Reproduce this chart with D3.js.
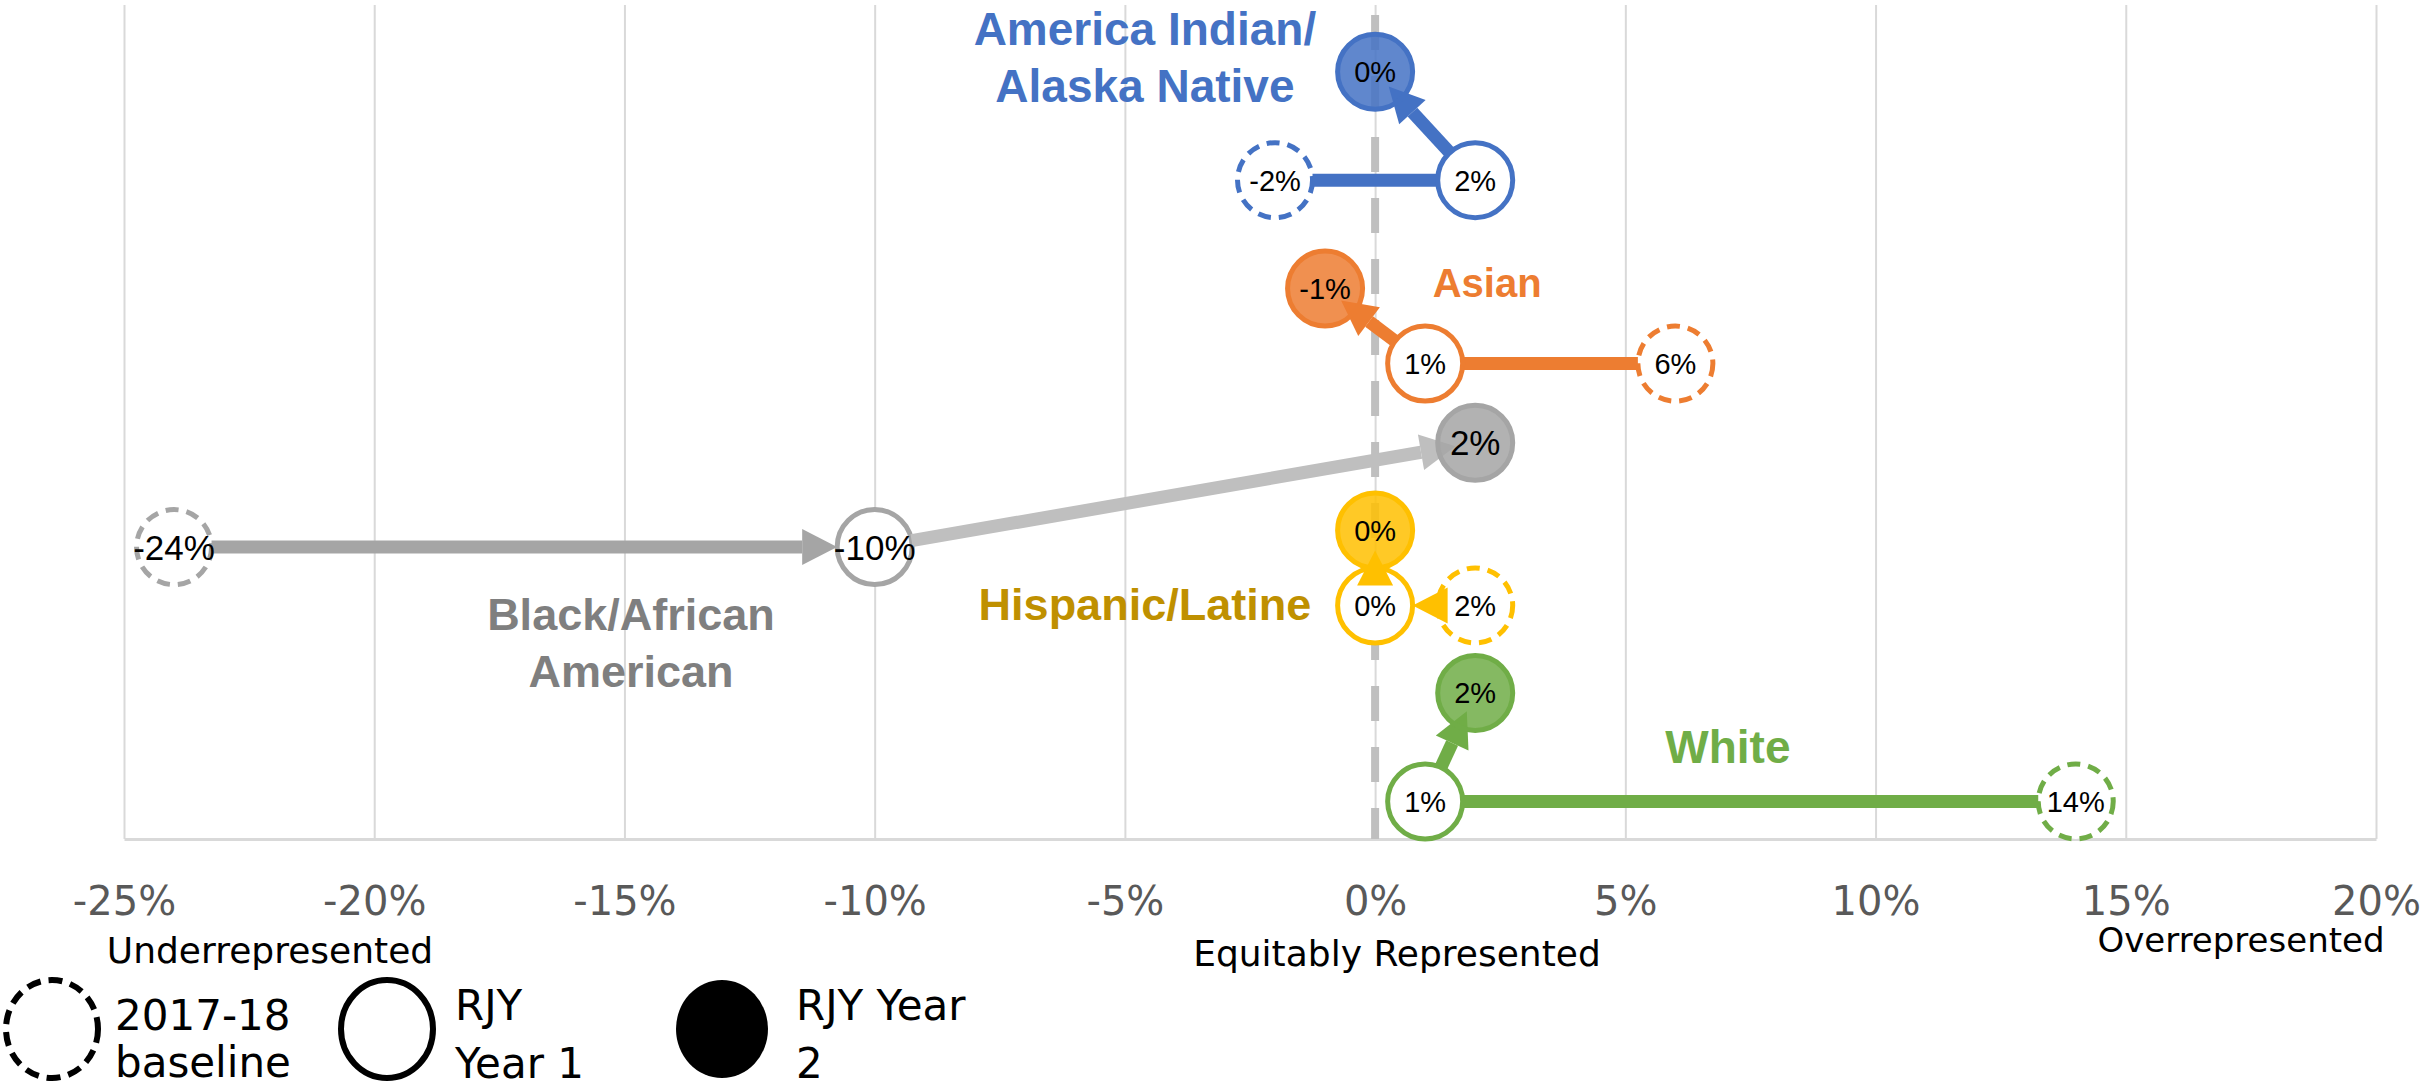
<!DOCTYPE html>
<html>
<head>
<meta charset="utf-8">
<script src="https://cdn.jsdelivr.net/npm/d3@7"></script>
<style>
body { margin: 0; background: #fff; }
svg { display: block; }
</style>
</head>
<body>
<svg id="chart" width="2425" height="1091"></svg>
<script>
// data
var groups = ["America Indian/Alaska Native", "Asian", "Black/African American", "Hispanic/Latine", "White"];
var baseline = [-2, 6, -24, 2, 14];     // 2017-18 baseline
var year1 = [2, 1, -10, 0, 1];          // RJY Year 1
var year2 = [0, -1, 2, 0, 2];           // RJY Year 2
var rowLow = [79, 57, 35, 28, 4.5];     // hidden y value for baseline + year 1
var rowHigh = [92, 66, 47.5, 37, 17.5]; // hidden y value for year 2
var xTicks = [-25, -20, -15, -10, -5, 0, 5, 10, 15, 20];

// styling
var colors = ["#4472C4", "#ED7D31", "#A5A5A5", "#FFC000", "#70AD47"];
var stepColors = ["#4472C4", "#ED7D31", "#BFBFBF", "#FFC000", "#70AD47"];
var labelColors = ["#4472C4", "#ED7D31", "#7F7F7F", "#BF9000", "#70AD47"];
var baseHead = [false, false, true, true, false];
var labelPos = [
    {x: -4.6, y: 95.2, size: 46},
    {x: 2.24, y: 65.0, size: 40},
    {x: -14.87, y: 25.1, size: 45},
    {x: -4.6, y: 26.3, size: 45},
    {x: 7.05, y: 9.1, size: 46}
];

var plot = {left: 124, right: 2376, top: 5, bottom: 839};
var r = 37.5, lw = 13, headLen = 35, headW = 36;

var x = d3.scaleLinear().domain([-25, 20]).range([plot.left, plot.right]);
var y = d3.scaleLinear().domain([0, 100]).range([plot.bottom, plot.top]);

var svg = d3.select("#chart");
svg.append("rect").attr("width", 2425).attr("height", 1091).attr("fill", "#fff");

// gridlines
svg.append("g")
    .attr("transform", "translate(0," + plot.bottom + ")")
    .call(d3.axisBottom(x).tickValues(xTicks).tickSize(-(plot.bottom - plot.top)).tickFormat(""))
    .call(function(g) { g.select(".domain").remove(); })
    .selectAll("line")
    .attr("stroke", "#D9D9D9")
    .attr("stroke-width", 2);

// axis
var ax = svg.append("g")
    .attr("transform", "translate(0," + plot.bottom + ")")
    .call(d3.axisBottom(x).tickValues(xTicks).tickSize(0).tickPadding(48).tickFormat(function(d) { return d + "%"; }));
ax.select(".domain").attr("stroke", "#D9D9D9").attr("stroke-width", 3);
ax.selectAll("text")
    .attr("font-family", "DejaVu Sans")
    .attr("font-size", 40)
    .attr("fill", "#595959");

// dashed zero line
svg.append("line")
    .attr("x1", x(0)).attr("x2", x(0))
    .attr("y1", 15).attr("y2", plot.bottom)
    .attr("stroke", "#BFBFBF")
    .attr("stroke-width", 8)
    .attr("stroke-dasharray", "35,26");

function segment(g, sx, sy, tx, ty, startOff, tipOff, color, head) {
    var dx = tx - sx, dy = ty - sy;
    var len = Math.sqrt(dx * dx + dy * dy);
    var ux = dx / len, uy = dy / len;
    var s = [sx + ux * startOff, sy + uy * startOff];
    var t = [tx - ux * tipOff, ty - uy * tipOff];
    var e = t;
    if (head) {
        e = [t[0] - ux * headLen, t[1] - uy * headLen];
    }
    if ((e[0] - s[0]) * ux + (e[1] - s[1]) * uy > 0) {
        g.append("line")
            .attr("x1", s[0]).attr("y1", s[1])
            .attr("x2", e[0]).attr("y2", e[1])
            .attr("stroke", color)
            .attr("stroke-width", lw);
    }
    if (head) {
        var nx = -uy, ny = ux;
        var pts = [
            t,
            [e[0] + nx * headW / 2, e[1] + ny * headW / 2],
            [e[0] - nx * headW / 2, e[1] - ny * headW / 2]
        ];
        g.append("path")
            .attr("d", "M" + pts.join("L") + "Z")
            .attr("fill", color);
    }
}

var marks = svg.append("g");

// baseline circles
marks.selectAll(".base")
    .data(baseline)
    .enter()
    .append("circle")
    .attr("class", "base")
    .attr("cx", function(d) { return x(d); })
    .attr("cy", function(d, i) { return y(rowLow[i]); })
    .attr("r", r)
    .attr("fill", "#fff")
    .attr("stroke", function(d, i) { return colors[i]; })
    .attr("stroke-width", 5)
    .attr("stroke-dasharray", "13,8");

// baseline -> year 1
for (var i = 0; i < groups.length; i++) {
    segment(marks, x(baseline[i]), y(rowLow[i]), x(year1[i]), y(rowLow[i]), r, r, colors[i], baseHead[i]);
}

// year 1 circles
marks.selectAll(".y1")
    .data(year1)
    .enter()
    .append("circle")
    .attr("class", "y1")
    .attr("cx", function(d) { return x(d); })
    .attr("cy", function(d, i) { return y(rowLow[i]); })
    .attr("r", r)
    .attr("fill", "#fff")
    .attr("stroke", function(d, i) { return colors[i]; })
    .attr("stroke-width", 5);

// year 1 -> year 2
for (var j = 0; j < groups.length; j++) {
    segment(marks, x(year1[j]), y(rowLow[j]), x(year2[j]), y(rowHigh[j]), r, 20, stepColors[j], true);
}

// year 2 circles
marks.selectAll(".y2")
    .data(year2)
    .enter()
    .append("circle")
    .attr("class", "y2")
    .attr("cx", function(d) { return x(d); })
    .attr("cy", function(d, i) { return y(rowHigh[i]); })
    .attr("r", r)
    .attr("fill", function(d, i) { return colors[i]; })
    .attr("fill-opacity", 0.85)
    .attr("stroke", function(d, i) { return colors[i]; })
    .attr("stroke-width", 5);

// value labels
var pts = [];
for (var k = 0; k < groups.length; k++) {
    pts.push({v: baseline[k], row: rowLow[k], g: k});
    pts.push({v: year1[k], row: rowLow[k], g: k});
    pts.push({v: year2[k], row: rowHigh[k], g: k});
}
marks.selectAll(".val")
    .data(pts)
    .enter()
    .append("text")
    .attr("class", "val")
    .attr("x", function(d) { return x(d.v); })
    .attr("y", function(d) { return y(d.row); })
    .attr("dy", "0.36em")
    .attr("text-anchor", "middle")
    .attr("font-family", "Liberation Sans, Arial, sans-serif")
    .attr("font-size", function(d) { return d.g === 2 ? 35 : 29; })
    .attr("fill", "#000")
    .text(function(d) { return d.v + "%"; });

// group labels
var labelLines = [["America Indian/", "Alaska Native"], ["Asian"], ["Black/African", "American"], ["Hispanic/Latine"], ["White"]];
labelLines.forEach(function(lines, i) {
    var t = svg.append("text")
        .attr("x", x(labelPos[i].x))
        .attr("y", y(labelPos[i].y))
        .attr("text-anchor", "middle")
        .attr("font-family", "Liberation Sans, Arial, sans-serif")
        .attr("font-weight", "bold")
        .attr("font-size", labelPos[i].size)
        .attr("fill", labelColors[i]);
    lines.forEach(function(l, n) {
        t.append("tspan")
            .attr("x", x(labelPos[i].x))
            .attr("dy", n === 0 ? 0 : 57)
            .text(l);
    });
});

// axis notes
var notes = [
    {text: "Underrepresented", x: 270, y: 963, size: 36},
    {text: "Equitably Represented", x: 1397, y: 966, size: 36},
    {text: "Overrepresented", x: 2241, y: 952, size: 34}
];
svg.selectAll(".note")
    .data(notes)
    .enter()
    .append("text")
    .attr("class", "note")
    .attr("x", function(d) { return d.x; })
    .attr("y", function(d) { return d.y; })
    .attr("text-anchor", "middle")
    .attr("font-family", "DejaVu Sans")
    .attr("font-size", function(d) { return d.size; })
    .attr("fill", "#000")
    .text(function(d) { return d.text; });

// legend
var legend = [
    {kind: "dash", cx: 52, tx: 115, lines: ["2017-18", "baseline"], top: 1030},
    {kind: "ring", cx: 387, tx: 455, lines: ["RJY", "Year 1"], top: 1020},
    {kind: "fill", cx: 722, tx: 796, lines: ["RJY Year", "2"], top: 1020}
];
legend.forEach(function(d) {
    var e = svg.append("ellipse")
        .attr("cx", d.cx).attr("cy", 1029)
        .attr("rx", 46).attr("ry", 49);
    if (d.kind === "fill") {
        e.attr("fill", "#000");
    } else {
        e.attr("fill", "none").attr("stroke", "#000").attr("stroke-width", 6);
        if (d.kind === "dash") e.attr("stroke-dasharray", "14,8");
    }
    var t = svg.append("text")
        .attr("x", d.tx)
        .attr("y", d.top)
        .attr("font-family", "DejaVu Sans")
        .attr("font-size", 42)
        .attr("fill", "#000");
    d.lines.forEach(function(l, n) {
        t.append("tspan").attr("x", d.tx).attr("dy", n === 0 ? 0 : (d.kind === "dash" ? 47 : 58)).text(l);
    });
});
</script>
</body>
</html>
